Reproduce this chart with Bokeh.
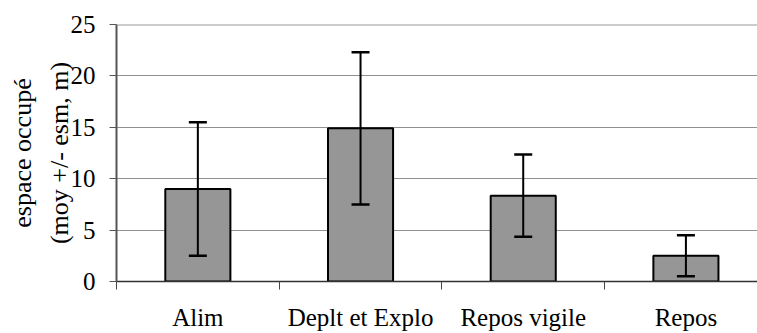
from bokeh.plotting import figure
from bokeh.models import (ColumnDataSource, Whisker, TeeHead, FixedTicker, Title, Span, Range1d)
from bokeh.embed import file_html
from bokeh.resources import INLINE

categories = ["Alim", "Deplt et Explo", "Repos vigile", "Repos"]
means = [9.0, 14.9, 8.35, 2.5]
errors = [6.5, 7.4, 4.0, 2.0]
y_ticks = [0, 5, 10, 15, 20, 25]
Y_MAX = 25

xs = list(range(len(categories)))
src = ColumnDataSource(dict(
    x=xs, top=means,
    upper=[m + e for m, e in zip(means, errors)],
    lower=[m - e for m, e in zip(means, errors)],
))

FONT = "Liberation Serif"

p = figure(width=757, height=333, output_backend="svg", toolbar_location=None,
           x_range=Range1d(-0.5, 3.44), y_range=Range1d(0, Y_MAX),
           min_border_left=111, min_border_right=0, min_border_top=24, min_border_bottom=52)
p.outline_line_alpha = 0
p.background_fill_color = "white"
p.border_fill_color = "white"

p.vbar(x="x", top="top", bottom=0, width=0.4, source=src,
       fill_color="#969696", line_color="black", line_width=2)

w = Whisker(base="x", upper="upper", lower="lower", source=src,
            line_color="black", line_width=2, level="overlay",
            upper_head=TeeHead(size=18, line_color="black", line_width=2.5),
            lower_head=TeeHead(size=18, line_color="black", line_width=2.5))
p.add_layout(w)

p.add_layout(Span(location=Y_MAX, dimension="width", line_color="#9a9a9a", line_width=2))

# x axis
p.xaxis.ticker = FixedTicker(ticks=xs, minor_ticks=[i - 0.5 for i in range(len(categories) + 1)])
p.xaxis.major_label_overrides = {i: c for i, c in zip(xs, categories)}
p.xaxis.major_tick_out = 0
p.xaxis.major_tick_in = 0
p.xaxis.minor_tick_out = 8
p.xaxis.minor_tick_in = 0
p.xaxis.minor_tick_line_color = "#444444"
p.xaxis.axis_line_color = "#333333"
p.xaxis.axis_line_width = 1.5
p.xaxis.major_label_text_font = FONT
p.xaxis.major_label_text_font_size = "25px"
p.xaxis.major_label_text_color = "black"
p.xaxis.major_label_standoff = 14
p.xgrid.visible = False

# y axis
p.yaxis.ticker = FixedTicker(ticks=y_ticks, minor_ticks=[])
p.yaxis.major_tick_out = 7
p.yaxis.major_tick_in = 0
p.yaxis.major_tick_line_color = "#555555"
p.yaxis.axis_line_color = "#555555"
p.yaxis.axis_line_width = 2
p.yaxis.major_label_text_font = FONT
p.yaxis.major_label_text_font_size = "25px"
p.yaxis.major_label_text_color = "black"
p.yaxis.major_label_standoff = 14
p.yaxis.axis_label = "(moy +/- esm, m)"
p.yaxis.axis_label_text_font = FONT
p.yaxis.axis_label_text_font_size = "26px"
p.yaxis.axis_label_text_font_style = "normal"
p.yaxis.axis_label_text_color = "black"
p.yaxis.axis_label_standoff = -6
p.ygrid.grid_line_color = "#909090"
p.ygrid.grid_line_width = 1

p.add_layout(Title(text="espace occupé", align="center", text_font=FONT,
                   text_font_size="26px", text_font_style="normal",
                   text_color="black", standoff=10), "left")

open("out.html", "w").write(file_html(p, INLINE))
